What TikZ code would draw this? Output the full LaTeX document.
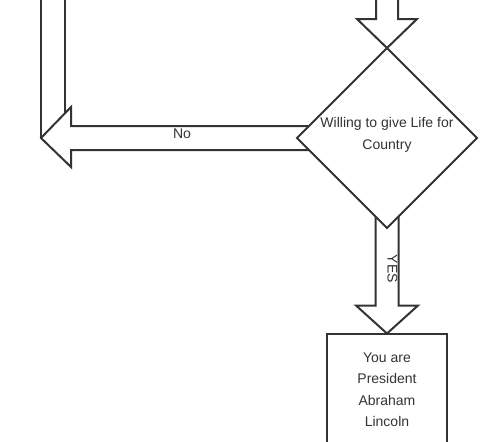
\documentclass[tikz,border=0pt]{standalone}
\usepackage{fontspec}
\setmainfont{Liberation Sans}
\usetikzlibrary{shapes.geometric,calc,backgrounds}
\definecolor{ink}{HTML}{333333}
\begin{document}
\begin{tikzpicture}[x=1pt,y=-1pt,
  blk/.style={draw=ink,fill=white,line width=2pt,line join=miter},
  lbl/.style={text=ink,font=\fontsize{14}{21.5}\selectfont,inner sep=0pt},
]
\useasboundingbox (0,0) rectangle (480,442);
\clip (0,0) rectangle (480,442);
% nodes
\node[diamond, blk, minimum width=180pt, minimum height=180pt, inner sep=0pt, outer sep=0pt] (d) at (387,138) {};
\node[lbl, align=center] (dtext) at (387,135) {Willing to give Life for\\Country};
\node[blk, lbl, outer sep=0pt, minimum width=120pt, minimum height=112pt, align=center] (b) at (387,389.5) {You are\\President\\Abraham\\Lincoln};
\coordinate (turn) at (41,138);
\node[lbl] (no) at (182,133.5) {No};
\node[lbl, rotate=-90] (yes) at (392.5,269) {YES};
% block arrows behind the nodes
\begin{scope}[on background layer]
  % vertical shaft coming down on the left
  \draw[blk] ($(turn)+(0,-160)$) rectangle ($(turn)+(24,-1)$);
  % "No" arrow: from decision to the left turn
  \draw[blk] ($(d.west)+(20,-12)$) -- ($(turn)+(30,-12)$) -- ($(turn)+(30,-31)$) -- (turn)
     -- ($(turn)+(30,29)$) -- ($(turn)+(30,12)$) -- ($(d.west)+(20,12)$) -- cycle;
  % incoming arrow from top into the decision
  \draw[blk] ($(d.north)+(-11,-70)$) -- ($(d.north)+(-11,-29)$) -- ($(d.north)+(-30,-29)$) -- (d.north)
     -- ($(d.north)+(30,-29)$) -- ($(d.north)+(11,-29)$) -- ($(d.north)+(11,-70)$);
  % "YES" arrow: from decision to the result box
  \draw[blk] ($(d.south)+(-11.5,-20)$) -- ($(b.north)+(-11.5,-28)$) -- ($(b.north)+(-31,-28)$) -- (b.north)
     -- ($(b.north)+(31,-28)$) -- ($(b.north)+(11.5,-28)$) -- ($(d.south)+(11.5,-20)$) -- cycle;
\end{scope}
\end{tikzpicture}
\end{document}
